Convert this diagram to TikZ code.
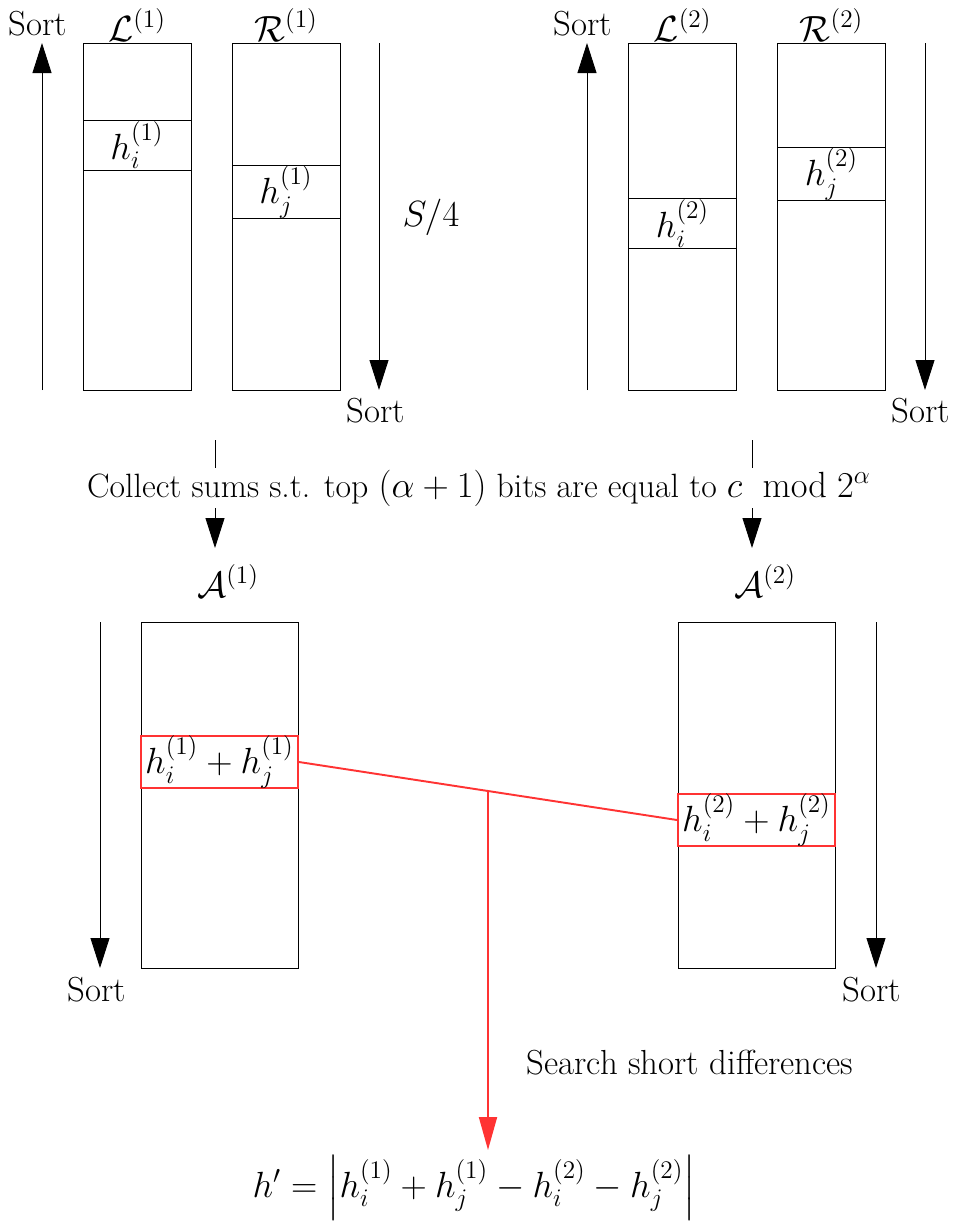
\documentclass[tikz,border=0pt]{standalone}
\usepackage{amsmath}
\usetikzlibrary{arrows.meta,calc}
\definecolor{hred}{RGB}{255,51,51}
\begin{document}
\begin{tikzpicture}[
    x=0.02cm, y=-0.02cm,
    every node/.style={font=\fontsize{19.8}{23}\selectfont},
    mathlab/.style={font=\fontsize{20.8}{24}\selectfont},
    column/.style={draw, line width=0.5pt, minimum width=2.16cm, minimum height=6.94cm, inner sep=0pt},
    widecol/.style={draw, line width=0.5pt, minimum width=3.14cm, minimum height=6.92cm, inner sep=0pt},
    cell/.style={draw, line width=0.5pt, minimum width=2.16cm, minimum height=1cm, inner sep=0pt, mathlab},
    sumcell/.style={draw=hred, line width=1.1pt, minimum width=3.14cm, minimum height=1cm, inner sep=0pt, mathlab},
    sortarrow/.style={line width=0.5pt, -{Triangle[length=0.6cm, width=0.38cm]}},
    redarrow/.style={hred, line width=1.1pt, -{Triangle[length=0.66cm, width=0.36cm]}}
]
    \useasboundingbox (0,0) rectangle (954,1225);

    % Level 0: Lists of the first half
    \node[column] (L1) at (137,216.5) {};
    \node[column] (R1) at (286,216.5) {};
    \node[cell] (hi1) at (137,145) {$h_i^{(1)}$};
    \node[cell] (hj1) at (286,192) {$h_j^{(1)}$};
    \node[mathlab] (L1lab) at (137,25) {$\mathcal{L}^{(1)}$};
    \node[mathlab] (R1lab) at (286,25) {$\mathcal{R}^{(1)}$};

    % Lists of the second half
    \node[column] (L2) at (682.5,216.5) {};
    \node[column] (R2) at (831.5,216.5) {};
    \node[cell] (hi2) at (682.5,223.5) {$h_i^{(2)}$};
    \node[cell] (hj2) at (831.5,174) {$h_j^{(2)}$};
    \node[mathlab] (L2lab) at (682.5,25) {$\mathcal{L}^{(2)}$};
    \node[mathlab] (R2lab) at (831.5,25) {$\mathcal{R}^{(2)}$};

    % Sort arrows (top)
    \coordinate (u1s) at (42,390);  \coordinate (u1e) at (42,43);
    \coordinate (d1s) at (379,43);  \coordinate (d1e) at (379,390);
    \coordinate (u2s) at (587,390); \coordinate (u2e) at (587,43);
    \coordinate (d2s) at (925,43);  \coordinate (d2e) at (925,390);
    \draw[sortarrow] (u1s) -- (u1e);
    \draw[sortarrow] (d1s) -- (d1e);
    \draw[sortarrow] (u2s) -- (u2e);
    \draw[sortarrow] (d2s) -- (d2e);
    \node (sortu1) at (38,24) {Sort};
    \node (sortd1) at (376,411) {Sort};
    \node (sortu2) at (583,24) {Sort};
    \node (sortd2) at (921,411) {Sort};
    \node[mathlab] (size) at (431,217) {$S/4$};

    % Level 1: Merged lists
    \node[widecol] (A1) at (219.5,795) {};
    \node[widecol] (A2) at (756.5,795) {};
    \node[mathlab] (A1lab) at (228,581) {$\mathcal{A}^{(1)}$};
    \node[mathlab] (A2lab) at (765,581) {$\mathcal{A}^{(2)}$};
    \node[sumcell] (s1) at (219.5,762) {$h_i^{(1)}+h_j^{(1)}$};
    \node[sumcell] (s2) at (756.5,820) {$h_i^{(2)}+h_j^{(2)}$};

    % Collect arrows
    \coordinate (c1s) at (215,440); \coordinate (c1e) at (215,548);
    \coordinate (c2s) at (752,440); \coordinate (c2e) at (752,548);
    \draw[sortarrow] (c1s) -- (c1e);
    \draw[sortarrow] (c2s) -- (c2e);
    \node[fill=white, inner sep=1pt, font=\fontsize{19.2}{22}\selectfont] (collect) at (479,488)
        {Collect sums s.t. top $(\alpha+1)$ bits are equal to $c\ \ \mathrm{mod}\ 2^{\alpha}$};

    % Sort arrows (bottom)
    \coordinate (d3s) at (100,622); \coordinate (d3e) at (100,968);
    \coordinate (d4s) at (876,622); \coordinate (d4e) at (876,968);
    \draw[sortarrow] (d3s) -- (d3e);
    \draw[sortarrow] (d4s) -- (d4e);
    \node (sortd3) at (97,990) {Sort};
    \node (sortd4) at (872,990) {Sort};

    % Level 2: Short difference
    \node[mathlab] (hp) at (474,1188) {$h' = \left|h_i^{(1)}+h_j^{(1)}-h_i^{(2)}-h_j^{(2)}\right|$};
    \node (search) at (690,1063) {Search short differences};
    \coordinate (jn) at ($(s1.east)!0.5!(s2.west)$);
    \coordinate (hpin) at (488,1150);
    \draw[hred, line width=1.1pt] (s1.east) -- (s2.west);
    \draw[redarrow] (jn) -- (hpin);

\end{tikzpicture}
\end{document}
